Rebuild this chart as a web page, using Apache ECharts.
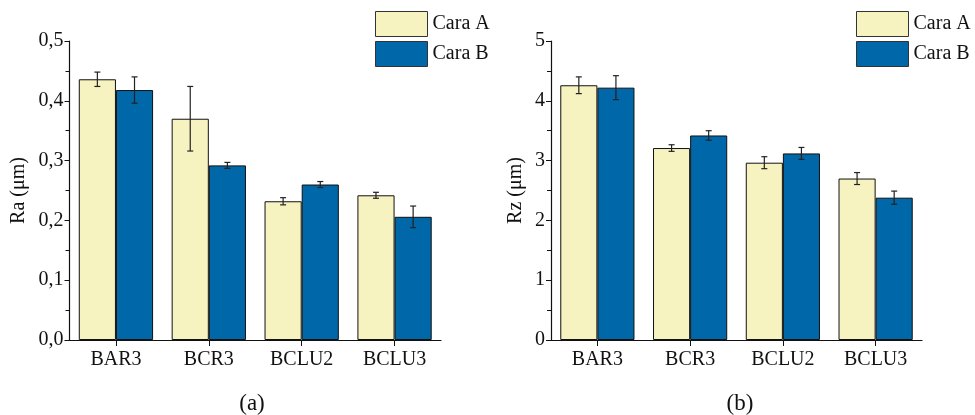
<!DOCTYPE html>
<html>
<head>
<meta charset="utf-8">
<script src="https://cdn.jsdelivr.net/npm/echarts@6/dist/echarts.min.js"></script>
<style>html,body{margin:0;padding:0;background:#fff}#c{width:975px;height:415px}</style>
</head>
<body>
<div id="c"></div>
<script>
const categories = ['BAR3', 'BCR3', 'BCLU2', 'BCLU3'];
const raA = [0.436, 0.370, 0.232, 0.242];
const raB = [0.418, 0.292, 0.260, 0.206];
const raAErr = [0.012, 0.054, 0.006, 0.005];
const raBErr = [0.022, 0.005, 0.005, 0.018];
const rzA = [4.26, 3.21, 2.965, 2.70];
const rzB = [4.22, 3.42, 3.12, 2.38];
const rzAErr = [0.14, 0.055, 0.10, 0.10];
const rzBErr = [0.20, 0.08, 0.10, 0.11];
const seriesNames = ['Cara A', 'Cara B'];
const colorA = '#F6F3C0';
const colorB = '#0067A8';

const FONT = 'Liberation Serif';
const FS = 20;

function errSeries(vals, errs, xi, yi, side) {
  return {
    type: 'custom',
    xAxisIndex: xi, yAxisIndex: yi,
    silent: true, z: 10,
    data: vals.map((v, i) => [i, v, errs[i]]),
    renderItem: function (params, api) {
      const i = api.value(0), v = api.value(1), e = api.value(2);
      const bw = api.size([1, 0])[0];
      const c = api.coord([i, v]);
      const x = c[0] + side * bw * 0.2;
      const yTop = api.coord([i, v + e])[1];
      const yBot = api.coord([i, v - e])[1];
      const cap = 3;
      const st = { stroke: '#222', lineWidth: 1.2 };
      return { type: 'group', children: [
        { type: 'line', shape: { x1: x, y1: yTop, x2: x, y2: yBot }, style: st },
        { type: 'line', shape: { x1: x - cap, y1: yTop, x2: x + cap, y2: yTop }, style: st },
        { type: 'line', shape: { x1: x - cap, y1: yBot, x2: x + cap, y2: yBot }, style: st }
      ]};
    }
  };
}

function barSeries(name, vals, color, xi, yi) {
  return {
    name: name, type: 'bar', xAxisIndex: xi, yAxisIndex: yi,
    data: vals, barGap: '0%', barCategoryGap: '20%',
    itemStyle: { color: color, borderColor: '#111', borderWidth: 1 },
    emphasis: { disabled: true }
  };
}

function yAxis(gi, max, interval, name, fmt, nameGap) {
  return {
    type: 'value', gridIndex: gi, min: 0, max: max, interval: interval,
    name: name, nameLocation: 'middle', nameGap: nameGap, nameRotate: 90,
    nameTextStyle: { fontFamily: FONT, fontSize: FS, color: '#111' },
    axisLine: { show: true, lineStyle: { color: '#111', width: 1.2 } },
    axisTick: { show: true, inside: false, length: 5, lineStyle: { color: '#111', width: 1 } },
    minorTick: { show: true, splitNumber: 2, length: 4, lineStyle: { color: '#111', width: 1 } },
    splitLine: { show: false },
    axisLabel: { fontFamily: FONT, fontSize: FS, color: '#111', margin: 6, formatter: fmt }
  };
}

function xAxis(gi) {
  return {
    type: 'category', gridIndex: gi, data: categories,
    axisLine: { show: true, lineStyle: { color: '#111', width: 1.2 } },
    axisTick: { show: true, alignWithLabel: true, length: 6, lineStyle: { color: '#111' } },
    axisLabel: { fontFamily: FONT, fontSize: FS, color: '#111', margin: 10 }
  };
}

const legendCommon = {
  orient: 'vertical', itemWidth: 52, itemHeight: 25, itemGap: 4, icon: 'rect',
  textStyle: { fontFamily: FONT, fontSize: FS, color: '#111', padding: [0, 0, 0, 0] },
  itemStyle: { borderColor: '#333', borderWidth: 1 },
  selectedMode: false, padding: 0,
  data: seriesNames
};

const chart = echarts.init(document.getElementById('c'), null, { renderer: 'canvas' });
chart.setOption({
  animation: false,
  backgroundColor: '#fff',
  title: [
    { text: '(a)', left: 247, top: 387, textAlign: 'center', textStyle: { fontFamily: FONT, fontSize: 23, fontWeight: 'normal', color: '#111' } },
    { text: '(b)', left: 735, top: 387, textAlign: 'center', textStyle: { fontFamily: FONT, fontSize: 23, fontWeight: 'normal', color: '#111' } }
  ],
  legend: [
    Object.assign({}, legendCommon, { left: 375, top: 11 }),
    Object.assign({}, legendCommon, { left: 856, top: 11 })
  ],
  grid: [
    { left: 69.5, right: 534, top: 41, bottom: 75 },
    { left: 551, right: 53, top: 41, bottom: 75 }
  ],
  xAxis: [xAxis(0), xAxis(1)],
  yAxis: [
    yAxis(0, 0.5, 0.1, 'Ra (μm)', v => v.toFixed(1).replace('.', ','), 41),
    yAxis(1, 5, 1, 'Rz (μm)', v => String(v), 25)
  ],
  series: [
    barSeries(seriesNames[0], raA, colorA, 0, 0),
    barSeries(seriesNames[1], raB, colorB, 0, 0),
    barSeries(seriesNames[0], rzA, colorA, 1, 1),
    barSeries(seriesNames[1], rzB, colorB, 1, 1),
    errSeries(raA, raAErr, 0, 0, -1),
    errSeries(raB, raBErr, 0, 0, 1),
    errSeries(rzA, rzAErr, 1, 1, -1),
    errSeries(rzB, rzBErr, 1, 1, 1)
  ]
});
</script>
</body>
</html>
